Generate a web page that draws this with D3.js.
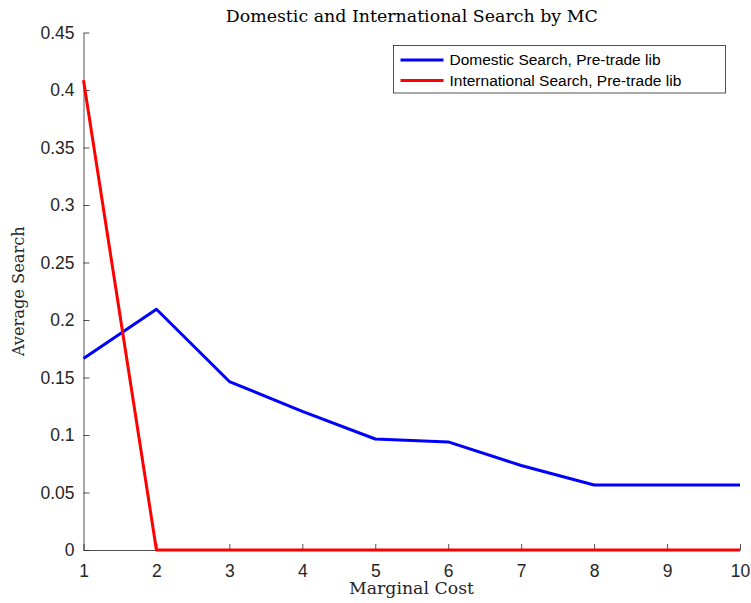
<!DOCTYPE html>
<html>
<head>
<meta charset="utf-8">
<script src="https://cdn.jsdelivr.net/npm/d3@7"></script>
<style>
  body { margin: 0; background: #fff; }
  svg { display: block; }
</style>
</head>
<body>
<svg id="chart"></svg>
<script>
const width = 751;
const height = 603;
const margin = {top: 32.5, right: 11, bottom: 53, left: 83.5};

// data
const marginalCost = [1, 2, 3, 4, 5, 6, 7, 8, 9, 10];
const domestic = [0.1665, 0.2093, 0.1465, 0.1205, 0.0965, 0.094, 0.0735, 0.0565, 0.0565, 0.0565];
const international = [0.4085, 0, 0, 0, 0, 0, 0, 0, 0, 0];
const yTicks = [0, 0.05, 0.1, 0.15, 0.2, 0.25, 0.3, 0.35, 0.4, 0.45];
const seriesNames = ['Domestic Search, Pre-trade lib', 'International Search, Pre-trade lib'];
const seriesColors = ['#0000ff', '#ff0000'];

const svg = d3.select('#chart')
    .attr('width', width)
    .attr('height', height);

const x = d3.scaleLinear().domain([1, 10]).range([margin.left, width - margin.right]);
const y = d3.scaleLinear().domain([0, 0.45]).range([height - margin.bottom, margin.top]);

const axisColor = '#262626';
const tickFont = 'Liberation Sans, Arial, sans-serif';
const serif = 'DejaVu Serif, serif';

// x axis, ticks inward
const xAxis = svg.append('g')
    .attr('transform', `translate(0, ${height - margin.bottom})`)
    .call(d3.axisBottom(x).tickValues(marginalCost).tickSizeInner(-6).tickSizeOuter(0).tickPadding(10));

// y axis, ticks inward
const yAxis = svg.append('g')
    .attr('transform', `translate(${margin.left}, 0)`)
    .call(d3.axisLeft(y).tickValues(yTicks).tickSizeInner(-6).tickSizeOuter(0).tickPadding(9)
        .tickFormat(d => d3.format('')(+d.toFixed(2))));

[xAxis, yAxis].forEach(a => {
    a.select('.domain').attr('stroke', axisColor).attr('stroke-width', 0.8);
    a.selectAll('.tick line').attr('stroke', axisColor).attr('stroke-width', 0.8);
    a.selectAll('.tick text')
        .attr('fill', axisColor)
        .style('font-family', tickFont)
        .style('font-size', '17.5px');
});
xAxis.selectAll('.tick text').attr('dy', '0.95em');

// lines
const line = d3.line()
    .x((d, i) => x(marginalCost[i]))
    .y(d => y(d));

[domestic, international].forEach((s, i) => {
    svg.append('path')
        .datum(s)
        .attr('fill', 'none')
        .attr('stroke', seriesColors[i])
        .attr('stroke-width', 3)
        .attr('stroke-linejoin', 'round')
        .attr('d', line);
});

// title and labels
svg.append('text')
    .attr('x', (margin.left + width - margin.right) / 2)
    .attr('y', 22)
    .attr('text-anchor', 'middle')
    .attr('textLength', 372)
    .attr('lengthAdjust', 'spacingAndGlyphs')
    .style('font-family', serif)
    .style('font-size', '16px')
    .attr('fill', '#000')
    .text('Domestic and International Search by MC');

svg.append('text')
    .attr('x', 411.5)
    .attr('y', 594)
    .attr('text-anchor', 'middle')
    .attr('textLength', 125)
    .attr('lengthAdjust', 'spacingAndGlyphs')
    .style('font-family', serif)
    .style('font-size', '16px')
    .attr('fill', axisColor)
    .text('Marginal Cost');

svg.append('text')
    .attr('transform', `translate(24, ${(margin.top + height - margin.bottom) / 2}) rotate(-90)`)
    .attr('text-anchor', 'middle')
    .attr('textLength', 130)
    .attr('lengthAdjust', 'spacingAndGlyphs')
    .style('font-family', serif)
    .style('font-size', '16px')
    .attr('fill', axisColor)
    .text('Average Search');

// legend
const legend = svg.append('g').attr('transform', 'translate(393.5, 45.5)');
legend.append('rect')
    .attr('width', 332)
    .attr('height', 47.5)
    .attr('fill', '#fff')
    .attr('stroke', axisColor)
    .attr('stroke-width', 0.8);

seriesNames.forEach((name, i) => {
    const row = legend.append('g').attr('transform', `translate(0, ${14.5 + i * 20.5})`);
    row.append('line')
        .attr('x1', 7).attr('x2', 50)
        .attr('stroke', seriesColors[i])
        .attr('stroke-width', 3);
    row.append('text')
        .attr('x', 56)
        .attr('dy', '0.35em')
        .style('font-family', tickFont)
        .style('font-size', '15.5px')
        .attr('fill', '#000')
        .text(name);
});
</script>
</body>
</html>
